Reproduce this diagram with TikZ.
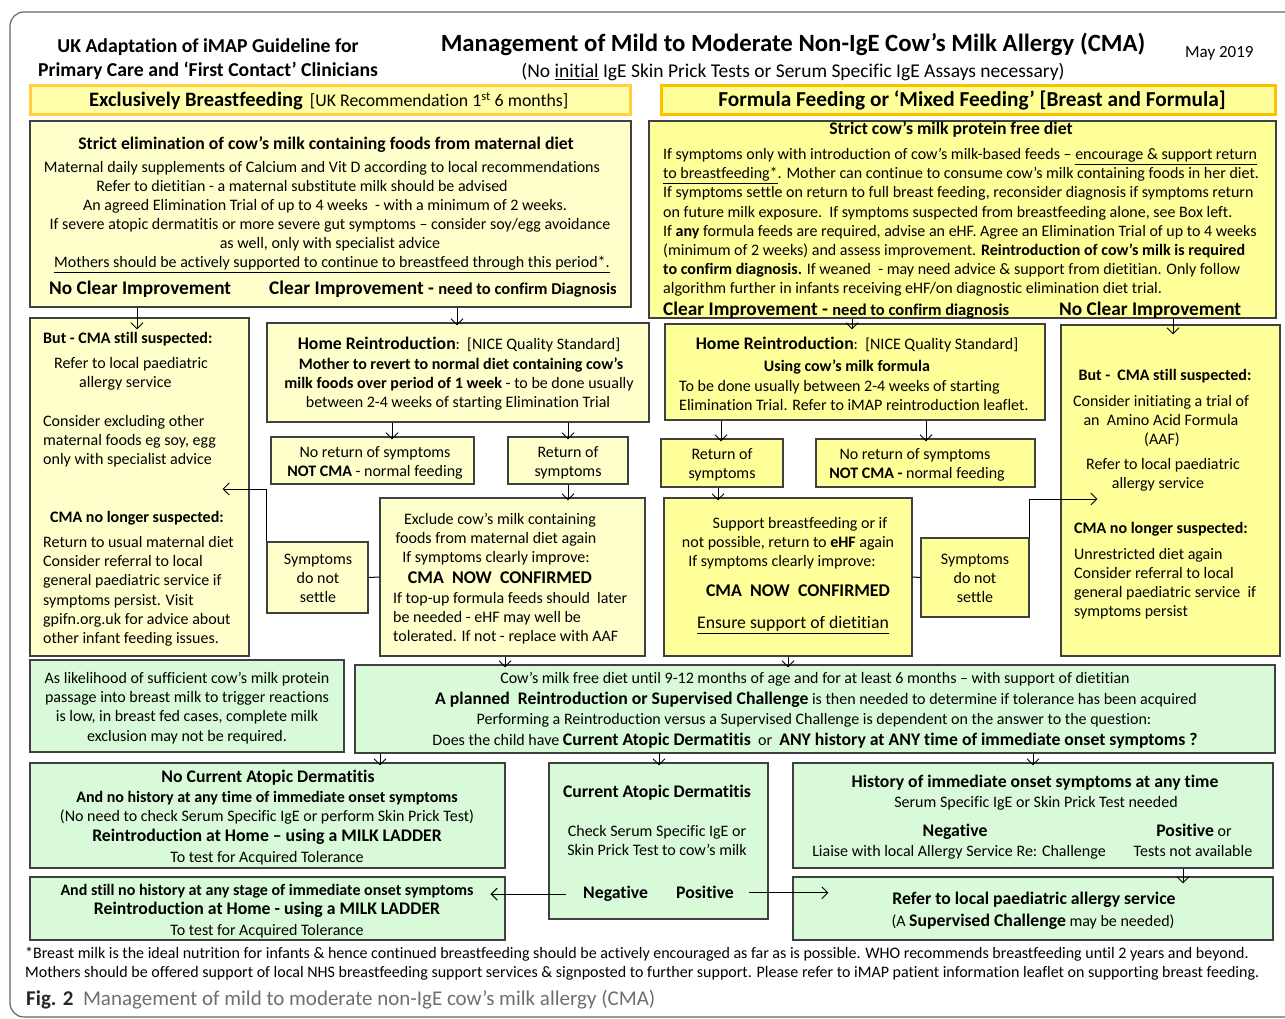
\documentclass[tikz,border=0pt]{standalone}
\usepackage{fontspec}
\setmainfont{Carlito}[Ligatures=NoCommon]
\usetikzlibrary{arrows.meta,fit}

\definecolor{lyel}{HTML}{FFFFCC}
\definecolor{ryel}{HTML}{FFFF99}
\definecolor{lgrn}{HTML}{D9FAD9}
\definecolor{hdrlfill}{HTML}{FFFFAA}
\definecolor{hdrlline}{HTML}{FFD040}
\definecolor{hdrrline}{HTML}{FFC000}
\definecolor{boxline}{HTML}{404040}
\definecolor{capgray}{HTML}{6E6E6E}

\newcommand\fbody{\fontsize{16}{19}\selectfont}
\newcommand\fbodyb{\fontsize{16}{19}\selectfont\bfseries}
\newcommand\fneedb{\fontsize{16.5}{19}\selectfont\bfseries}
\newcommand\fsubb{\fontsize{17.7}{20}\selectfont\bfseries}
\newcommand\fmidb{\fontsize{17.9}{20}\selectfont\bfseries}
\newcommand\fbigb{\fontsize{19.3}{22}\selectfont\bfseries}
\newcommand\fhead{\fontsize{19.7}{22}\selectfont\bfseries}
\newcommand\fsubt{\fontsize{19.5}{22}\selectfont}
\newcommand\fdate{\fontsize{17}{20}\selectfont}
\newcommand\fbrack{\fontsize{17.8}{20}\selectfont}
\newcommand\fhdrl{\fontsize{20.5}{23}\selectfont\bfseries}
\newcommand\fhdrr{\fontsize{21.3}{24}\selectfont\bfseries}
\newcommand\ftitle{\fontsize{24.8}{28}\selectfont\bfseries}
\newcommand\ffoot{\fontsize{16}{19}\selectfont}
\newcommand\fcap{\fontsize{21}{24}\selectfont}

\begin{document}
\begin{tikzpicture}[x=1pt, y=-1pt,
  box/.style={draw=boxline, line width=1.1pt, inner sep=0pt},
  lbox/.style={box, fill=lyel},
  ybox/.style={box, fill=ryel},
  gbox/.style={box, fill=lgrn},
  hdrl/.style={draw=hdrlline, fill=hdrlfill, line width=3pt, inner sep=0pt},
  hdrr/.style={draw=hdrrline, fill=ryel, line width=3pt, inner sep=0pt},
  txt/.style={inner sep=0pt, font=\fbody, anchor=mid, yshift=-3.5pt},
  ltxt/.style={txt, anchor=mid west},
  arr/.style={-{Straight Barb[length=6pt,width=12pt]}, line width=1pt, shorten >=-3pt},
  link/.style={line width=1pt}]

\useasboundingbox (0,0) rectangle (1285,1019);
\draw[draw=gray!80!black, line width=1.2pt, rounded corners=14pt] (10,1017) rectangle (1320,12);

% titles
\node[txt, font=\fhead] (uk1) at (208,47) {UK Adaptation of iMAP Guideline for};
\node[txt, font=\fhead] (uk2) at (208,71) {Primary Care and ‘First Contact’ Clinicians};
\node[txt, font=\ftitle] (title) at (793,46) {Management of Mild to Moderate Non-IgE Cow’s Milk Allergy (CMA)};
\node[txt, font=\fsubt] (subtitle) at (793,72) {(No \underline{initial} IgE Skin Prick Tests or Serum Specific IgE Assays necessary)};
\node[ltxt, font=\fdate] (date) at (1185,52) {May 2019};

% feeding headers
\node[hdrl, fit={(30,86) (630,115)}] (hdrL) {};
\node[ltxt] (hdrLt) at (89,101) {{\fhdrl Exclusively Breastfeeding}\ \ {\fbrack [UK Recommendation 1\textsuperscript{st} 6 months]}};
\node[hdrr, fit={(661,86) (1275,115)}] (hdrR) {};
\node[txt, font=\fhdrr] (hdrRt) at (972,101) {Formula Feeding or ‘Mixed Feeding’ [Breast and Formula]};

% boxes
\node[lbox, fit={(30,121) (631,307)}] (boxA) {};
\node[ybox, fit={(649,121) (1276,318)}] (boxB) {};
\node[lbox, fit={(30,318) (249,656)}] (boxC) {};
\node[lbox, fit={(267,323) (649,422)}] (boxD) {};
\node[lbox, fit={(271,437) (474,484)}] (boxE) {};
\node[lbox, fit={(508,437) (628,484)}] (boxF) {};
\node[lbox, fit={(380,498) (645,656)}] (boxG) {};
\node[lbox, fit={(267,542) (368,613)}] (boxH) {};
\node[ybox, fit={(665,324) (1045,420)}] (boxI) {};
\node[ybox, fit={(661,439) (783,487)}] (boxJ) {};
\node[ybox, fit={(816,439) (1035,487)}] (boxK) {};
\node[ybox, fit={(664,498) (912,656)}] (boxL) {};
\node[ybox, fit={(921,538) (1029,617)}] (boxM) {};
\node[ybox, fit={(1061,325) (1280,656)}] (boxN) {};
\node[gbox, fit={(30,660) (344,752)}] (boxO) {};
\node[gbox, fit={(355,665) (1275,753)}] (boxP) {};
\node[gbox, fit={(30,763) (505,868)}] (boxQ) {};
\node[gbox, fit={(549,763) (768,919)}] (boxR) {};
\node[gbox, fit={(793,763) (1273,868)}] (boxS) {};
\node[gbox, fit={(30,877) (505,940)}] (boxT) {};
\node[gbox, fit={(793,877) (1273,940)}] (boxU) {};

% box A
\node[txt, font=\fsubb] (a1) at (326,144) {Strict elimination of cow’s milk containing foods from maternal diet};
\node[txt] (a2) at (322,167) {Maternal daily supplements of Calcium and Vit D according to local recommendations};
\node[txt] (a3) at (302,186) {Refer to dietitian - a maternal substitute milk should be advised};
\node[txt] (a4) at (325,205) {An agreed Elimination Trial of up to 4 weeks\ \ - with a minimum of 2 weeks.};
\node[txt] (a5) at (330,224) {If severe atopic dermatitis or more severe gut symptoms – consider soy/egg avoidance};
\node[txt] (a6) at (330,243) {as well, only with specialist advice};
\node[txt] (a7) at (332,262) {\underline{Mothers should be actively supported to continue to breastfeed through this period*.}};
\node[ltxt, font=\fbigb] (a8) at (49,289) {No Clear Improvement};
\node[ltxt, font=\fbigb] (a9) at (269,289) {Clear Improvement - {\fneedb need to confirm Diagnosis}};

% box B
\node[txt, font=\fsubb] (b1) at (951,129) {Strict cow’s milk protein free diet};
\node[ltxt] (b2) at (663,154) {If symptoms only with introduction of cow’s milk-based feeds – \underline{encourage \& support return}};
\node[ltxt] (b3) at (663,173) {\underline{to breastfeeding*}. Mother can continue to consume cow’s milk containing foods in her diet.};
\node[ltxt] (b4) at (663,192) {If symptoms settle on return to full breast feeding, reconsider diagnosis if symptoms return};
\node[ltxt] (b5) at (663,212) {on future milk exposure.\ \ If symptoms suspected from breastfeeding alone, see Box left.};
\node[ltxt] (b6) at (663,231) {If \textbf{any} formula feeds are required, advise an eHF. Agree an Elimination Trial of up to 4 weeks};
\node[ltxt] (b7) at (663,250) {(minimum of 2 weeks) and assess improvement. \textbf{Reintroduction of cow’s milk is required}};
\node[ltxt] (b8) at (663,269) {\textbf{to confirm diagnosis.} If weaned\ \ - may need advice \& support from dietitian. Only follow};
\node[ltxt] (b9) at (663,288) {algorithm further in infants receiving eHF/on diagnostic elimination diet trial.};
\node[ltxt, font=\fbigb] (b10) at (663,310) {Clear Improvement - {\fneedb need to confirm diagnosis}};
\node[ltxt, font=\fbigb] (b11) at (1059,310) {No Clear Improvement};

% box C
\node[ltxt, font=\fbodyb] (c1) at (43,338) {But - CMA still suspected:};
\node[ltxt] (c2) at (54,363) {Refer to local paediatric};
\node[ltxt] (c3) at (79,382) {allergy service};
\node[ltxt] (c4) at (43,421) {Consider excluding other};
\node[ltxt] (c5) at (43,440) {maternal foods eg soy, egg};
\node[ltxt] (c6) at (43,459) {only with specialist advice};
\node[ltxt, font=\fbodyb] (c7) at (50,517) {CMA no longer suspected:};
\node[ltxt] (c8) at (43,542) {Return to usual maternal diet};
\node[ltxt] (c9) at (43,561) {Consider referral to local};
\node[ltxt] (c10) at (43,580) {general paediatric service if};
\node[ltxt] (c11) at (43,600) {symptoms persist. Visit};
\node[ltxt] (c12) at (43,619) {gpifn.org.uk for advice about};
\node[ltxt] (c13) at (43,638) {other infant feeding issues.};

% box D, E, F, G, H
\node[txt] (d1) at (459,344) {{\fsubb Home Reintroduction}:\ \ [NICE Quality Standard]};
\node[txt, font=\fbodyb] (d2) at (461,364) {Mother to revert to normal diet containing cow’s};
\node[txt] (d3) at (459,383) {\textbf{milk foods over period of 1 week} - to be done usually};
\node[txt] (d4) at (458,402) {between 2-4 weeks of starting Elimination Trial};
\node[txt] (e1) at (375,452) {No return of symptoms};
\node[txt] (e2) at (375,471) {\textbf{NOT CMA} - normal feeding};
\node[txt] (f1) at (568,452) {Return of};
\node[txt] (f2) at (568,471) {symptoms};
\node[txt] (g1) at (500,519) {Exclude cow’s milk containing};
\node[txt] (g2) at (496,538) {foods from maternal diet again};
\node[txt] (g3) at (496,557) {If symptoms clearly improve:};
\node[txt, font=\fmidb] (g4) at (500,578) {CMA\ \ NOW\ \ CONFIRMED};
\node[ltxt] (g5) at (393,598) {If top-up formula feeds should\ \ later};
\node[ltxt] (g6) at (393,617) {be needed - eHF may well be};
\node[ltxt] (g7) at (393,636) {tolerated. If not - replace with AAF};
\node[txt] (h1) at (318,559) {Symptoms};
\node[txt] (h2) at (318,578) {do not};
\node[txt] (h3) at (318,597) {settle};

% box I, J, K, L, M, N
\node[txt] (i1) at (857,344) {{\fsubb Home Reintroduction}:\ \ [NICE Quality Standard]};
\node[txt, font=\fbodyb] (i2) at (847,366) {Using cow’s milk formula};
\node[ltxt] (i3) at (679,386) {To be done usually between 2-4 weeks of starting};
\node[ltxt] (i4) at (679,405) {Elimination Trial. Refer to iMAP reintroduction leaflet.};
\node[txt] (j1) at (722,454) {Return of};
\node[txt] (j2) at (722,473) {symptoms};
\node[txt] (k1) at (915,454) {No return of symptoms};
\node[txt] (k2) at (917,473) {\textbf{NOT CMA -} normal feeding};
\node[txt] (l1) at (800,523) {Support breastfeeding or if};
\node[txt] (l2) at (788,542) {not possible, return to \textbf{eHF} again};
\node[txt] (l3) at (782,561) {If symptoms clearly improve:};
\node[txt, font=\fmidb] (l4) at (798,591) {CMA\ \ NOW\ \ CONFIRMED};
\node[txt, font=\fsubb\mdseries] (l5) at (793,623) {\underline{Ensure support of dietitian}};
\node[txt] (m1) at (975,559) {Symptoms};
\node[txt] (m2) at (975,578) {do not};
\node[txt] (m3) at (975,597) {settle};
\node[txt, font=\fbodyb] (n1) at (1165,375) {But -\ \ CMA still suspected:};
\node[txt] (n2) at (1161,401) {Consider initiating a trial of};
\node[txt] (n3) at (1161,420) {an\ \ Amino Acid Formula};
\node[txt] (n4) at (1162,439) {(AAF)};
\node[txt] (n5) at (1163,464) {Refer to local paediatric};
\node[txt] (n6) at (1158,483) {allergy service};
\node[ltxt, font=\fbodyb] (n7) at (1074,528) {CMA no longer suspected:};
\node[ltxt] (n8) at (1074,554) {Unrestricted diet again};
\node[ltxt] (n9) at (1074,573) {Consider referral to local};
\node[ltxt] (n10) at (1074,592) {general paediatric service\ \ if};
\node[ltxt] (n11) at (1074,611) {symptoms persist};

% green boxes
\node[txt] (o1) at (187,678) {As likelihood of sufficient cow’s milk protein};
\node[txt] (o2) at (187,697) {passage into breast milk to trigger reactions};
\node[txt] (o3) at (187,716) {is low, in breast fed cases, complete milk};
\node[txt] (o4) at (187,736) {exclusion may not be required.};
\node[txt] (p1) at (815,678) {Cow’s milk free diet until 9-12 months of age and for at least 6 months – with support of dietitian};
\node[txt] (p2) at (816,699) {{\fsubb A planned\ \ Reintroduction or Supervised Challenge} is then needed to determine if tolerance has been acquired};
\node[txt] (p3) at (814,719) {Performing a Reintroduction versus a Supervised Challenge is dependent on the answer to the question:};
\node[txt] (p4) at (815,740) {Does the child have {\fsubb Current Atopic Dermatitis}\ \ or\ \ {\fsubb ANY history at ANY time of immediate onset symptoms ?}};
\node[txt, font=\fsubb] (q1) at (268,777) {No Current Atopic Dermatitis};
\node[txt, font=\fbodyb] (q2) at (267,797) {And no history at any time of immediate onset symptoms};
\node[txt] (q3) at (267,816) {(No need to check Serum Specific IgE or perform Skin Prick Test)};
\node[txt, font=\fsubb] (q4) at (267,836) {Reintroduction at Home – using a MILK LADDER};
\node[txt] (q5) at (267,857) {To test for Acquired Tolerance};
\node[txt, font=\fsubb] (r1) at (657,792) {Current Atopic Dermatitis};
\node[txt] (r2) at (657,831) {Check Serum Specific IgE or};
\node[txt] (r3) at (657,850) {Skin Prick Test to cow’s milk};
\node[ltxt, font=\fsubb] (rneg) at (583,893) {Negative};
\node[ltxt, font=\fsubb] (rpos) at (676,893) {Positive};
\node[txt, font=\fsubb] (s1) at (1035,782) {History of immediate onset symptoms at any time};
\node[txt] (s2) at (1036,802) {Serum Specific IgE or Skin Prick Test needed};
\node[txt, font=\fsubb] (s3) at (955,831) {Negative};
\node[txt] (s4) at (959,851) {Liaise with local Allergy Service Re: Challenge};
\node[txt] (s5) at (1194,831) {{\fsubb Positive} or};
\node[txt] (s6) at (1193,851) {Tests not available};
\node[txt, font=\fbodyb] (t1) at (267,890) {And still no history at any stage of immediate onset symptoms};
\node[txt, font=\fsubb] (t2) at (267,909) {Reintroduction at Home - using a MILK LADDER};
\node[txt] (t3) at (267,930) {To test for Acquired Tolerance};
\node[txt, font=\fsubb] (u1) at (1034,899) {Refer to local paediatric allergy service};
\node[txt] (u2) at (1033,921) {(A {\fsubb Supervised Challenge} may be needed)};

% footnote and caption
\node[ltxt, font=\ffoot] (foot1) at (25,953) {*Breast milk is the ideal nutrition for infants \& hence continued breastfeeding should be actively encouraged as far as is possible. WHO recommends breastfeeding until 2 years and beyond.};
\node[ltxt, font=\ffoot] (foot2) at (25,972) {Mothers should be offered support of local NHS breastfeeding support services \& signposted to further support. Please refer to iMAP patient information leaflet on supporting breast feeding.};
\node[ltxt, font=\fcap, text=capgray] (cap) at (26,1000) {{\bfseries\color{black!85}Fig. 2}\ \ Management of mild to moderate non-IgE cow’s milk allergy (CMA)};

% connectors
\draw[arr, shorten >=-12pt] (boxA.south -| 137,0) -- (boxC.north -| 137,0);
\draw[arr] (boxA.south -| 457,0) -- (boxD.north -| 457,0);
\draw[arr] (boxD.south -| 392,0) -- (boxE.north -| 392,0);
\draw[arr] (boxD.south -| 568,0) -- (boxF.north -| 568,0);
\draw[arr] (boxF.south -| 568,0) -- (boxG.north -| 568,0);
\draw[link] (boxG.west) -- (boxH.east);
\draw[arr, shorten >=-27pt] (boxH.north west) |- (boxC.east |- 0,489);
\draw[arr, shorten >=-6pt] (boxB.south -| 852,0) -- (boxI.north -| 852,0);
\draw[arr, shorten >=-10pt] (boxB.south -| 1173,0) -- (boxN.north -| 1173,0);
\draw[arr] (boxI.south -| 721,0) -- (boxJ.north -| 721,0);
\draw[arr] (boxI.south -| 926,0) -- (boxK.north -| 926,0);
\draw[arr] (boxJ.south -| 718,0) -- (boxL.north -| 718,0);
\draw[link] (boxL.east) -- (boxM.west);
\draw[arr, shorten >=-37pt] (boxM.north east) |- (boxN.west |- 0,499);
\draw[arr] (boxG.south -| 505,0) -- (boxP.north -| 505,0);
\draw[arr] (boxL.south -| 788,0) -- (boxP.north -| 788,0);
\draw[arr] (boxP.south -| 380,0) -- (boxQ.north -| 380,0);
\draw[arr] (boxP.south -| 659,0) -- (boxR.north -| 659,0);
\draw[arr] (boxP.south -| 1033,0) -- (boxS.north -| 1033,0);
\draw[arr, shorten >=-7pt] (boxS.south -| 1183,0) -- (boxU.north -| 1183,0);
\draw[arr, shorten >=-15pt] ([xshift=-17pt]rneg.west) -- (boxT.east |- rneg.west);
\draw[arr, shorten >=-36pt] ([xshift=15pt]rpos.east) -- (boxU.west |- rpos.east);
\end{tikzpicture}
\end{document}
